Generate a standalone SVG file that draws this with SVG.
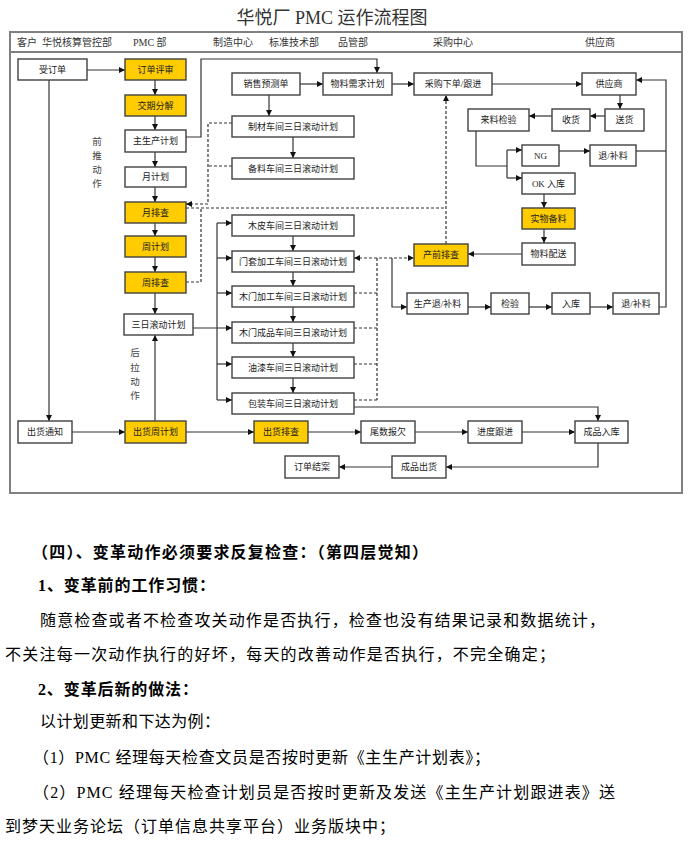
<svg xmlns="http://www.w3.org/2000/svg" width="695" height="846" viewBox="0 0 695 846">
<style>
.frame{fill:none;stroke:#808080;stroke-width:2}
.nd rect{fill:#fff;stroke:#404040;stroke-width:1.4}
.nd.y rect{fill:#FFCC00}
.nd text{font-family:"Liberation Serif","Noto Sans CJK SC",sans-serif;font-size:9px;fill:#222;text-anchor:middle}
.hd{font-family:"Liberation Serif","Noto Sans CJK SC",sans-serif;font-size:10px;fill:#333}
.vt{font-family:"Noto Sans CJK SC",sans-serif;font-size:9.5px;fill:#444;text-anchor:middle}
.cn path{fill:none;stroke:#333;stroke-width:1.2}
.cn path.a{marker-end:url(#ar)}
.cn path.d{stroke-dasharray:3,2}
.body{font-family:"Liberation Serif","Noto Sans CJK SC",serif;font-size:16px;fill:#000}
.b{font-weight:bold}
</style>
<defs>
<marker id="ar" markerUnits="userSpaceOnUse" markerWidth="6" markerHeight="6" refX="6" refY="3" orient="auto-start-reverse">
<path d="M0,0 L6,3 L0,6 z" fill="#111"/>
</marker>
</defs>
<rect width="695" height="846" fill="#fff"/>
<text x="332" y="24" text-anchor="middle" style="font-family:'Liberation Serif','Noto Sans CJK SC',serif;font-size:18px;fill:#333">华悦厂 PMC 运作流程图</text>
<rect class="frame" x="10" y="32" width="672" height="461"/>
<line class="frame" x1="10" y1="52" x2="682" y2="52"/>
<g id="header">
<text class="hd" x="17" y="45.5">客户</text>
<text class="hd" x="42" y="45.5">华悦核算管控部</text>
<text class="hd" x="133" y="45.5">PMC 部</text>
<text class="hd" x="213" y="45.5">制造中心</text>
<text class="hd" x="269" y="45.5">标准技术部</text>
<text class="hd" x="338" y="45.5">品管部</text>
<text class="hd" x="433" y="45.5">采购中心</text>
<text class="hd" x="585" y="45.5">供应商</text>
</g>
<g id="labels">
<text class="vt"><tspan x="97" y="145">前</tspan><tspan x="97" y="159">推</tspan><tspan x="97" y="173">动</tspan><tspan x="97" y="187">作</tspan></text>
<text class="vt"><tspan x="135" y="356">后</tspan><tspan x="135" y="371">拉</tspan><tspan x="135" y="385">动</tspan><tspan x="135" y="399">作</tspan></text>
</g>
<g class="cn" id="connectors">
<path class="a" d="M87,70 H125"/>
<path class="a" d="M49,80 V421"/>
<path class="a" d="M155,80 V95"/>
<path class="a" d="M155,116 V130"/>
<path class="a" d="M155,152 V167"/>
<path class="a" d="M155,187 V202"/>
<path class="a" d="M155,223 V236"/>
<path class="a" d="M155,257 V272"/>
<path class="a" d="M155,293 V314"/>
<path class="a" d="M155,421 V335"/>
<path class="a" d="M72,432 H125"/>
<path class="a" d="M186,432 H254"/>
<path class="a" d="M308,432 H361"/>
<path class="a" d="M415,432 H468"/>
<path class="a" d="M522,432 H575"/>
<path class="a" d="M598,443 V467 H446"/>
<path class="a" d="M392,467 H339"/>
<path class="a" d="M354,407 H598 V421"/>
<path class="a" d="M186,137 H201 V59 H377 V73"/>
<path class="a" d="M300,84 H323"/>
<path class="a" d="M392,84 H414"/>
<path class="a" d="M492,84 H582"/>
<path class="a" d="M269,95 V116"/>
<path class="a" d="M293,137 V158"/>
<path class="a d" d="M232,123 H208 V204 H186"/>
<path class="d" d="M232,166 H208"/>
<path class="d" d="M186,208 H446"/>
<path class="a d" d="M446,244 V95"/>
<path class="d" d="M186,282 H201 V208"/>
<path class="a" d="M193,328 H232"/>
<path d="M217,223 V400"/>
<path class="a" d="M217,223 H232"/>
<path class="a" d="M217,258 H232"/>
<path class="a" d="M217,293 H232"/>
<path class="a" d="M217,364 H232"/>
<path class="a" d="M217,400 H232"/>
<path class="a" d="M293,236 V251"/>
<path class="a" d="M293,272 V286"/>
<path class="a" d="M293,307 V322"/>
<path class="a" d="M293,343 V357"/>
<path class="a" d="M293,378 V393"/>
<path class="a d" style="marker-start:url(#ar)" d="M354,258 H414"/>
<path class="d" d="M377,258 V400 M354,293 H377 M354,328 H377 M354,364 H377 M354,400 H377"/>
<path class="a" d="M392,258 V307 H407"/>
<path class="a" d="M522,254 H468"/>
<path d="M476,131 V166 H507 M507,150 V178"/>
<path class="a" d="M507,150 H522"/>
<path class="a" d="M507,178 H522"/>
<path class="a" d="M559,151 H590"/>
<path d="M636,151 H666"/>
<path class="a" d="M544,194 V208"/>
<path class="a" d="M544,229 V243"/>
<path class="a" d="M620,95 V109"/>
<path class="a" d="M605,116 H590"/>
<path class="a" d="M552,116 H529"/>
<path class="a" d="M468,307 H491"/>
<path class="a" d="M529,307 H552"/>
<path class="a" d="M590,307 H613"/>
<path class="a" d="M659,307 H666 V80 H636"/>
</g>
<g id="n1" class="nd"><rect x="18" y="59" width="69" height="21"/><text x="52.5" y="72.5">受订单</text></g>
<g id="n2" class="nd y"><rect x="125" y="59" width="61" height="21"/><text x="155.5" y="72.5">订单评审</text></g>
<g id="n3" class="nd y"><rect x="125" y="95" width="61" height="21"/><text x="155.5" y="108.5">交期分解</text></g>
<g id="n4" class="nd"><rect x="125" y="130" width="61" height="22"/><text x="155.5" y="144">主生产计划</text></g>
<g id="n5" class="nd"><rect x="125" y="167" width="61" height="20"/><text x="155.5" y="180">月计划</text></g>
<g id="n6" class="nd y"><rect x="125" y="202" width="61" height="21"/><text x="155.5" y="215.5">月排查</text></g>
<g id="n7" class="nd y"><rect x="125" y="236" width="61" height="21"/><text x="155.5" y="249.5">周计划</text></g>
<g id="n8" class="nd y"><rect x="125" y="272" width="61" height="21"/><text x="155.5" y="285.5">周排查</text></g>
<g id="n9" class="nd"><rect x="124" y="314" width="69" height="21"/><text x="158.5" y="327.5">三日滚动计划</text></g>
<g id="n10" class="nd"><rect x="18" y="421" width="54" height="22"/><text x="45" y="435">出货通知</text></g>
<g id="n11" class="nd y"><rect x="125" y="421" width="61" height="22"/><text x="155.5" y="435">出货周计划</text></g>
<g id="n12" class="nd y"><rect x="254" y="421" width="54" height="22"/><text x="281" y="435">出货排查</text></g>
<g id="n13" class="nd"><rect x="361" y="421" width="54" height="22"/><text x="388" y="435">尾数报欠</text></g>
<g id="n14" class="nd"><rect x="468" y="421" width="54" height="22"/><text x="495" y="435">进度跟进</text></g>
<g id="n15" class="nd"><rect x="575" y="421" width="53" height="22"/><text x="601.5" y="435">成品入库</text></g>
<g id="n16" class="nd"><rect x="392" y="456" width="54" height="22"/><text x="419" y="470">成品出货</text></g>
<g id="n17" class="nd"><rect x="285" y="456" width="54" height="22"/><text x="312" y="470">订单结案</text></g>
<g id="n18" class="nd"><rect x="232" y="73" width="68" height="22"/><text x="266" y="87">销售预测单</text></g>
<g id="n19" class="nd"><rect x="323" y="73" width="69" height="22"/><text x="357.5" y="87">物料需求计划</text></g>
<g id="n20" class="nd"><rect x="414" y="73" width="78" height="22"/><text x="453" y="87">采购下单/跟进</text></g>
<g id="n21" class="nd"><rect x="582" y="73" width="54" height="22"/><text x="609" y="87">供应商</text></g>
<g id="n22" class="nd"><rect x="232" y="116" width="122" height="21"/><text x="293" y="129.5">制材车间三日滚动计划</text></g>
<g id="n23" class="nd"><rect x="232" y="158" width="122" height="21"/><text x="293" y="171.5">备料车间三日滚动计划</text></g>
<g id="n24" class="nd"><rect x="232" y="215" width="122" height="21"/><text x="293" y="228.5">木皮车间三日滚动计划</text></g>
<g id="n25" class="nd"><rect x="232" y="251" width="122" height="21"/><text x="293" y="264.5">门套加工车间三日滚动计划</text></g>
<g id="n26" class="nd"><rect x="232" y="286" width="122" height="21"/><text x="293" y="299.5">木门加工车间三日滚动计划</text></g>
<g id="n27" class="nd"><rect x="232" y="322" width="122" height="21"/><text x="293" y="335.5">木门成品车间三日滚动计划</text></g>
<g id="n28" class="nd"><rect x="232" y="357" width="122" height="21"/><text x="293" y="370.5">油漆车间三日滚动计划</text></g>
<g id="n29" class="nd"><rect x="232" y="393" width="122" height="21"/><text x="293" y="406.5">包装车间三日滚动计划</text></g>
<g id="n30" class="nd"><rect x="605" y="109" width="39" height="22"/><text x="624.5" y="123">送货</text></g>
<g id="n31" class="nd"><rect x="552" y="109" width="38" height="22"/><text x="571" y="123">收货</text></g>
<g id="n32" class="nd"><rect x="468" y="109" width="61" height="22"/><text x="498.5" y="123">来料检验</text></g>
<g id="n33" class="nd"><rect x="522" y="145" width="37" height="21"/><text x="540.5" y="158.5">NG</text></g>
<g id="n34" class="nd"><rect x="590" y="145" width="46" height="21"/><text x="613" y="158.5">退/补料</text></g>
<g id="n35" class="nd"><rect x="522" y="173" width="53" height="21"/><text x="548.5" y="186.5">OK 入库</text></g>
<g id="n36" class="nd y"><rect x="522" y="208" width="53" height="21"/><text x="548.5" y="221.5">实物备料</text></g>
<g id="n37" class="nd"><rect x="522" y="243" width="53" height="22"/><text x="548.5" y="257">物料配送</text></g>
<g id="n38" class="nd y"><rect x="414" y="244" width="54" height="22"/><text x="441" y="258">产前排查</text></g>
<g id="n39" class="nd"><rect x="407" y="293" width="61" height="21"/><text x="437.5" y="306.5">生产退/补料</text></g>
<g id="n40" class="nd"><rect x="491" y="293" width="38" height="21"/><text x="510" y="306.5">检验</text></g>
<g id="n41" class="nd"><rect x="552" y="293" width="38" height="21"/><text x="571" y="306.5">入库</text></g>
<g id="n42" class="nd"><rect x="613" y="293" width="46" height="21"/><text x="636" y="306.5">退/补料</text></g>
<g id="bodytext">
<text class="body b" x="32" y="558" textLength="396" lengthAdjust="spacing">（四）、变革动作必须要求反复检查：（第四层觉知）</text>
<text class="body b" x="38" y="591" textLength="177" lengthAdjust="spacing">1、变革前的工作习惯：</text>
<text class="body" x="40" y="626" textLength="565" lengthAdjust="spacing">随意检查或者不检查攻关动作是否执行，检查也没有结果记录和数据统计，</text>
<text class="body" x="5" y="660" textLength="550" lengthAdjust="spacing">不关注每一次动作执行的好坏，每天的改善动作是否执行，不完全确定；</text>
<text class="body b" x="38" y="695" textLength="160" lengthAdjust="spacing">2、变革后新的做法：</text>
<text class="body" x="40" y="727" textLength="180" lengthAdjust="spacing">以计划更新和下达为例：</text>
<text class="body" x="33" y="763" textLength="457" lengthAdjust="spacing">（1）PMC 经理每天检查文员是否按时更新《主生产计划表》；</text>
<text class="body" x="33" y="798" textLength="582" lengthAdjust="spacing">（2）PMC 经理每天检查计划员是否按时更新及发送《主生产计划跟进表》送</text>
<text class="body" x="5" y="832" textLength="390" lengthAdjust="spacing">到梦天业务论坛（订单信息共享平台）业务版块中；</text>
</g>
</svg>
